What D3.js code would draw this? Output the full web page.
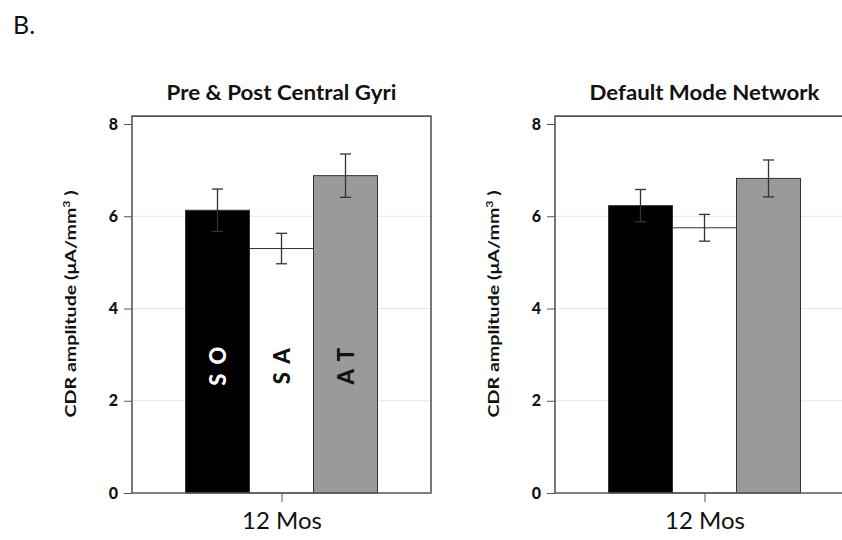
<html>
<head>
<script src="https://cdnjs.cloudflare.com/ajax/libs/d3/7.8.5/d3.min.js"></script>
<style>
    html, body { margin: 0; padding: 0; background: #fff; overflow: hidden; }
    svg { display: block; }
    text { font-family: Lato, "Open Sans", sans-serif; fill: #111; }
    .grid line { stroke: #e6e6e6; stroke-width: 1; }
    .frame { fill: none; stroke: #555; stroke-width: 1.6; }
    .bar { stroke: #333; stroke-width: 1; }
    .err line { stroke: #333; stroke-width: 1.3; }
</style>
</head>
<body>
<svg id="chart" width="842" height="540"></svg>
<script>
// data
var panelTitles = ["Pre & Post Central Gyri", "Default Mode Network"];
var groups = ["S O", "S A", "A T"];
var groupColors = ["#000000", "#ffffff", "#9a9a9a"];
var labelColors = ["#ffffff", "#111111", "#111111"];
var timepoint = ["12 Mos"];
var meansCentral = [6.13, 5.30, 6.88];
var semCentral = [0.46, 0.33, 0.47];
var meansDMN = [6.23, 5.75, 6.82];
var semDMN = [0.35, 0.29, 0.40];
var yTicks = [0, 2, 4, 6, 8];

// the second panel runs off the right edge of the figure, so its right side is not drawn
var panels = [
    { title: panelTitles[0], means: meansCentral, sem: semCentral, left: 132, showBarText: true, closed: true },
    { title: panelTitles[1], means: meansDMN, sem: semDMN, left: 555, showBarText: false, closed: false }
];

var svg = d3.select("#chart");
var panelW = 299;

svg.append("text")
    .attr("x", 13).attr("y", 34)
    .style("font-size", "25px")
    .text("B.");

var y = d3.scaleLinear().domain([0, 8]).range([493, 124]);

panels.forEach(function(p) {
    var g = svg.append("g").attr("transform", "translate(" + p.left + ",0)");

    var xCat = d3.scalePoint().domain(timepoint).range([0, panelW]).padding(0.5);
    var groupW = 192;
    var x = d3.scaleBand().domain(groups)
        .range([xCat(timepoint[0]) - groupW / 2, xCat(timepoint[0]) + groupW / 2]);

    // faint gridlines
    g.append("g").attr("class", "grid")
        .selectAll("line")
        .data(yTicks.filter(function(d) { return d > 0 && d < 8; }))
        .enter().append("line")
        .attr("x1", 0).attr("x2", panelW)
        .attr("y1", function(d) { return y(d); })
        .attr("y2", function(d) { return y(d); });

    // bars
    g.selectAll("rect.bar")
        .data(p.means)
        .enter().append("rect")
        .attr("class", "bar")
        .attr("x", function(d, i) { return x(groups[i]); })
        .attr("width", x.bandwidth())
        .attr("y", function(d) { return y(d); })
        .attr("height", function(d) { return y(0) - y(d); })
        .attr("fill", function(d, i) { return groupColors[i]; });

    // error bars
    var err = g.selectAll("g.err")
        .data(p.means)
        .enter().append("g").attr("class", "err");
    err.append("line")
        .attr("x1", function(d, i) { return x(groups[i]) + x.bandwidth() / 2; })
        .attr("x2", function(d, i) { return x(groups[i]) + x.bandwidth() / 2; })
        .attr("y1", function(d, i) { return y(d - p.sem[i]); })
        .attr("y2", function(d, i) { return y(d + p.sem[i]); });
    [1, -1].forEach(function(s) {
        err.append("line")
            .attr("x1", function(d, i) { return x(groups[i]) + x.bandwidth() / 2 - 5.5; })
            .attr("x2", function(d, i) { return x(groups[i]) + x.bandwidth() / 2 + 5.5; })
            .attr("y1", function(d, i) { return y(d + s * p.sem[i]); })
            .attr("y2", function(d, i) { return y(d + s * p.sem[i]); });
    });

    if (p.showBarText) {
        g.selectAll("text.barlab")
            .data(groups)
            .enter().append("text")
            .attr("class", "barlab")
            .attr("transform", function(d) {
                return "translate(" + (x(d) + x.bandwidth() / 2 + 8) + "," + y(2.77) + ") rotate(-90)";
            })
            .attr("text-anchor", "middle")
            .style("font-size", "22px")
            .style("font-weight", "900")
            .style("letter-spacing", "2px")
            .style("fill", function(d, i) { return labelColors[i]; })
            .text(function(d) { return d; });
    }

    // frame
    var top = y(8.17), bottom = y(0);
    var frame = d3.path();
    if (p.closed) {
        frame.rect(0, top, panelW, bottom - top);
    } else {
        frame.moveTo(panelW + 20, top);
        frame.lineTo(0, top);
        frame.lineTo(0, bottom);
        frame.lineTo(panelW + 20, bottom);
    }
    g.append("path").attr("class", "frame").attr("d", frame.toString());

    // y axis
    var yAxis = g.append("g")
        .call(d3.axisLeft(y).tickValues(yTicks).tickSize(8).tickPadding(6).tickFormat(d3.format("d")));
    yAxis.select(".domain").remove();
    yAxis.selectAll("line").attr("stroke", "#555").attr("stroke-width", 1);
    yAxis.selectAll("text")
        .style("font-size", "16px").style("font-weight", "900")
        .style("font-family", "Lato, sans-serif").attr("fill", "#111");

    // x axis
    var xAxis = g.append("g").attr("transform", "translate(0," + y(0) + ")")
        .call(d3.axisBottom(xCat).tickSize(9).tickPadding(10));
    xAxis.select(".domain").remove();
    xAxis.selectAll("line").attr("stroke", "#555").attr("stroke-width", 1);
    xAxis.selectAll("text")
        .style("font-size", "24px")
        .style("font-family", "Lato, sans-serif").attr("fill", "#111");

    // title
    g.append("text")
        .attr("x", xCat(timepoint[0])).attr("y", 100)
        .attr("text-anchor", "middle")
        .attr("textLength", 230).attr("lengthAdjust", "spacingAndGlyphs")
        .style("font-size", "20px").style("font-weight", "bold")
        .text(p.title);

    // y label
    var yl = g.append("text")
        .attr("transform", "translate(-56," + y(4.1) + ") rotate(-90)")
        .attr("text-anchor", "middle")
        .attr("textLength", 227).attr("lengthAdjust", "spacingAndGlyphs")
        .style("font-size", "16px").style("font-weight", "bold");
    yl.append("tspan").text("CDR amplitude (\u03bcA/mm");
    yl.append("tspan").attr("dy", -6).style("font-size", "10px").text("3");
    yl.append("tspan").attr("dy", 6).text(" )");
});
</script>
</body>
</html>
